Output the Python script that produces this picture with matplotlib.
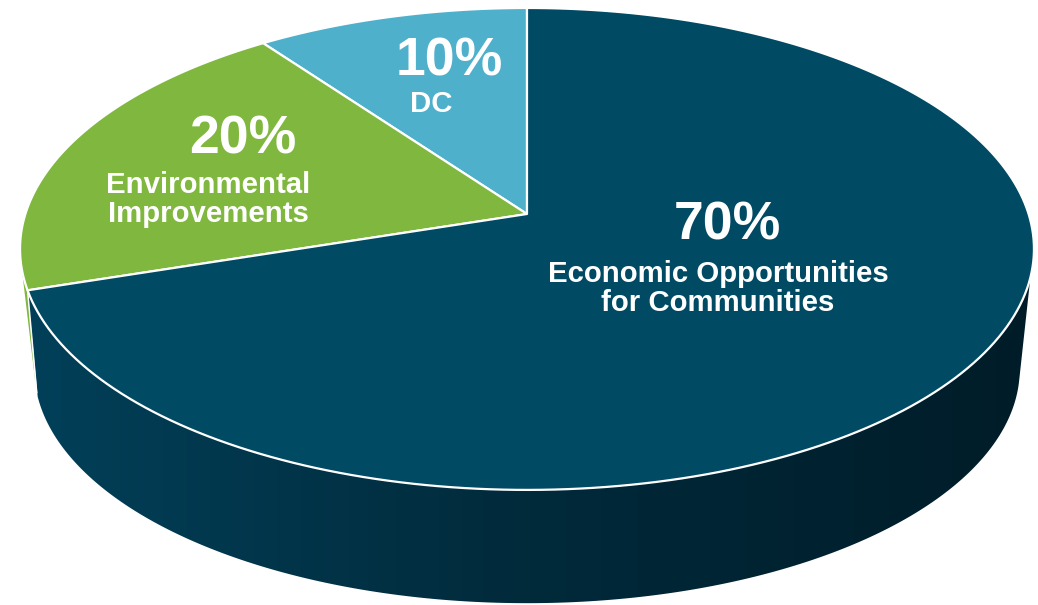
import numpy as np
import matplotlib
matplotlib.use("Agg")
import matplotlib.pyplot as plt
from matplotlib.colors import LinearSegmentedColormap
from matplotlib.patches import Polygon

plt.rcParams['font.family'] = ['Liberation Sans', 'DejaVu Sans']

# slices go counter clockwise from 12 o'clock
names = ["DC", "Environmental\nImprovements", "Economic Opportunities\nfor Communities"]
shares = [10, 20, 70]
colors = ["#4fb0cb", "#80b73e", "#004a64"]

# perspective of the pie, in pixels
cx, cy = 527, 214
k, a, c = 501.6, 235.9, 0.145
base_scale, base_cy = 0.972, 335
edge_angle = 105  # where the side wall starts, degrees from top


def rim(deg, scale=1.0, y0=cy):
    t = np.radians(deg)
    x, y = -np.sin(t), np.cos(t)
    d = 1 + c * y
    return np.column_stack([cx + scale * k * x / d, y0 - scale * a * y / d])


def base(deg):
    return rim(deg, base_scale, base_cy)


fig = plt.figure(figsize=(10.38, 6.05), dpi=100)
ax = fig.add_axes([0, 0, 1, 1])
ax.set_xlim(0, 1038)
ax.set_ylim(605, 0)
ax.axis("off")

ends = np.cumsum(shares) * 3.6
starts = ends - np.array(shares) * 3.6
split = ends[1]  # green / navy boundary

# thin bit of green wall behind the navy one
green_wall = np.vstack([rim(edge_angle - 5), rim(split), base(split - 4.5)])
ax.add_patch(Polygon(green_wall, fc=colors[1], ec="none", zorder=1))

# navy wall with left to right shading
arc = np.linspace(split, 360 - edge_angle, 200)
wall = np.vstack([rim(arc), base(arc[::-1] - 3 * np.linspace(1, -1.3, 200)[::-1])])
clip = Polygon(wall, transform=ax.transData, fc="none", ec="none")
ax.add_patch(clip)
shade = LinearSegmentedColormap.from_list("wall", ["#014059", "#012a3b", "#001c28"])
im = ax.imshow(np.linspace(0, 1, 256).reshape(1, -1), cmap=shade, aspect="auto",
               extent=(25, 1035, 605, 0), zorder=2)
im.set_clip_path(clip)
ax.set_xlim(0, 1038)
ax.set_ylim(605, 0)
ax.plot(*np.vstack([rim(split), base(split - 4)]).T, color="white", lw=1.1, zorder=3)

# top face
for i in range(len(shares)):
    arc = np.linspace(starts[i], ends[i], 200)
    pts = np.vstack([[cx, cy], rim(arc)])
    ax.add_patch(Polygon(pts, fc=colors[i], ec="white", lw=1.6, joinstyle="round", zorder=4))

# labels
big = dict(color="white", fontweight="bold", fontsize=38.5, ha="center", va="center", zorder=5)
small = dict(color="white", fontweight="bold", fontsize=21.2, ha="center", va="center",
             linespacing=1.05, zorder=5)
ax.text(449, 61, f"{shares[0]}%", **big)
ax.text(431, 104, names[0], **small)
ax.text(243, 139, f"{shares[1]}%", **big)
ax.text(208, 199.5, names[1], **small)
ax.text(727, 225, f"{shares[2]}%", **big)
ax.text(718, 288.5, names[2], **small)

fig.savefig("out.png", dpi=100)
